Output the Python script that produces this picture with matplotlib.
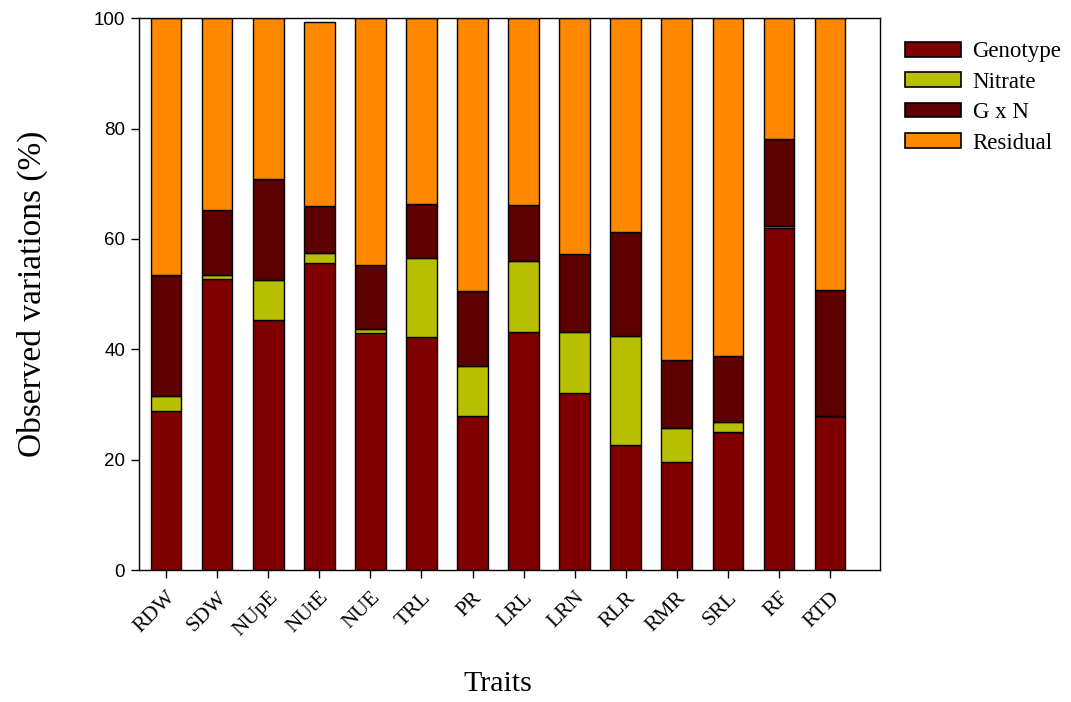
import matplotlib
matplotlib.use("Agg")
import matplotlib.pyplot as plt
import numpy as np
from matplotlib.patches import Patch

# Variance components (% of total) per root/shoot trait
traits = ["RDW", "SDW", "NUpE", "NUtE", "NUE", "TRL", "PR",
          "LRL", "LRN", "RLR", "RMR", "SRL", "RF", "RTD"]
genotype = [28.8, 52.8, 45.3, 55.6, 42.9, 42.3, 27.9,
            43.2, 32.0, 22.7, 19.6, 25.1, 61.9, 27.9]
nitrate = [2.8, 0.7, 7.3, 1.8, 0.7, 14.2, 9.1,
           12.8, 11.2, 19.8, 6.1, 1.7, 0.5, 0.1]
gxn = [21.9, 11.7, 18.2, 8.6, 11.7, 9.9, 13.6,
       10.2, 14.0, 18.7, 12.4, 12.0, 15.8, 22.8]
residual = [46.5, 34.8, 29.2, 33.3, 44.7, 33.6, 49.4,
            33.8, 42.8, 38.8, 61.9, 61.2, 21.8, 49.2]

series = [("Genotype", genotype, "#800000"),
          ("Nitrate", nitrate, "#b8bf00"),
          ("G x N", gxn, "#5c0000"),
          ("Residual", residual, "#ff8800")]

plt.rcParams["font.family"] = ["Liberation Serif", "DejaVu Serif"]

fig = plt.figure(figsize=(10.71, 7.02), dpi=100)
ax = fig.add_axes([0.1298, 0.188, 0.6919, 0.786])

x = np.arange(len(traits))
bottom = np.zeros(len(traits))
for name, vals, color in series:
    vals = np.array(vals)
    ax.bar(x, vals, width=0.6, bottom=bottom, color=color,
           edgecolor="black", linewidth=1.0)
    bottom += vals

ax.set_xlim(-0.53, 13.98)
ax.set_ylim(0, 100)
ax.set_yticks([0, 20, 40, 60, 80, 100])
ax.set_xticks(x)
ax.set_xticklabels(traits, rotation=45, ha="right", rotation_mode="anchor",
                   fontsize=15.5)
ax.tick_params(axis="both", direction="out", length=6, width=1,
               top=False, right=False)
ax.tick_params(axis="x", pad=7)
ax.tick_params(axis="y", pad=4)
# y tick numbers are set in a sans face
for lbl in ax.get_yticklabels():
    lbl.set_fontfamily(["Liberation Sans", "DejaVu Sans"])
    lbl.set_fontsize(13.5)
for sp in ax.spines.values():
    sp.set_linewidth(1.0)

ax.set_ylabel("Observed variations (%)", fontsize=24)
ax.yaxis.set_label_coords(-0.123, 0.50)
ax.set_xlabel("Traits", fontsize=21.5)
ax.xaxis.set_label_coords(0.4845, -0.1825)

handles = [Patch(facecolor=c, edgecolor="black", linewidth=1.2, label=n)
           for n, _, c in series]
fig.legend(handles=handles, loc="upper left", bbox_to_anchor=(0.845, 0.941),
           frameon=False, fontsize=16.5, handlelength=2.45, handleheight=0.6,
           handletextpad=0.5, labelspacing=0.41, borderpad=0,
           borderaxespad=0)

fig.savefig("out.png", dpi=100, facecolor="white")
